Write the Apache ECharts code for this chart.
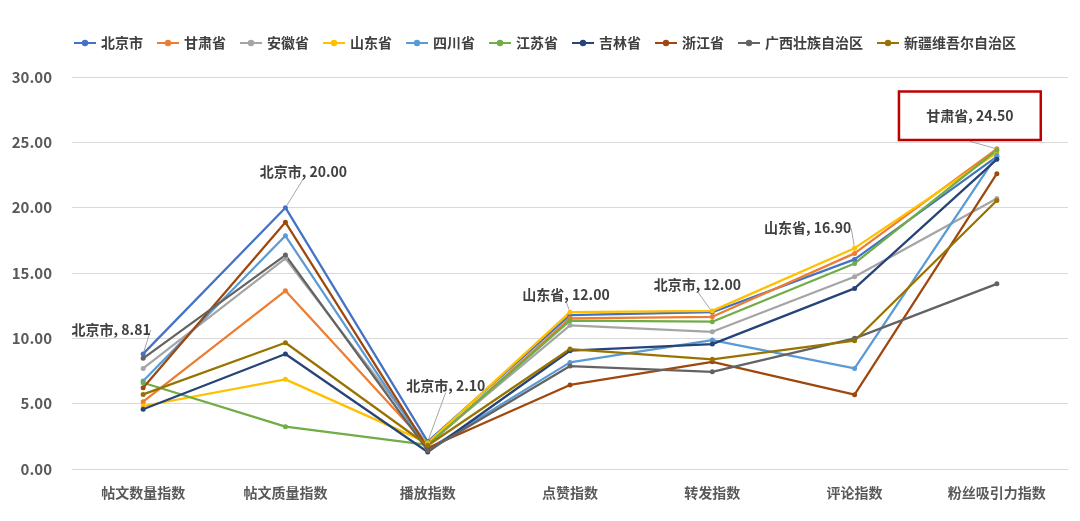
<!DOCTYPE html>
<html>
<head>
<meta charset="utf-8">
<script src="https://cdn.jsdelivr.net/npm/echarts@6/dist/echarts.min.js"></script>
<style>
  html, body { margin: 0; padding: 0; background: #fff; }
  #chart { width: 1080px; height: 521px; }
</style>
</head>
<body>
<div id="chart"></div>
<script>
const categories = ['帖文数量指数', '帖文质量指数', '播放指数', '点赞指数', '转发指数', '评论指数', '粉丝吸引力指数'];
const provinces = ['北京市', '甘肃省', '安徽省', '山东省', '四川省', '江苏省', '吉林省', '浙江省', '广西壮族自治区', '新疆维吾尔自治区'];
const beijing  = [8.81, 20.00, 2.10, 11.78, 12.00, 16.04, 23.90];
const gansu    = [5.15, 13.64, 1.80, 11.53, 11.65, 16.50, 24.50];
const anhui    = [7.70, 16.12, 1.90, 11.00, 10.50, 14.71, 20.70];
const shandong = [4.82, 6.86, 2.00, 12.00, 12.10, 16.90, 24.20];
const sichuan  = [6.73, 17.85, 1.50, 8.16, 9.87, 7.70, 24.00];
const jiangsu  = [6.60, 3.24, 1.84, 11.35, 11.27, 15.73, 24.40];
const jilin    = [4.57, 8.80, 1.30, 9.05, 9.56, 13.82, 23.70];
const zhejiang = [6.22, 18.88, 1.60, 6.43, 8.20, 5.69, 22.60];
const guangxi  = [8.47, 16.37, 1.40, 7.88, 7.44, 10.00, 14.17];
const xinjiang = [5.71, 9.66, 1.80, 9.18, 8.39, 9.82, 20.55];
const yTicks = ['0.00', '5.00', '10.00', '15.00', '20.00', '25.00', '30.00'];

const allData = [beijing, gansu, anhui, shandong, sichuan, jiangsu, jilin, zhejiang, guangxi, xinjiang];
const colors = ['#4472C4', '#ED7D31', '#A5A5A5', '#FFC000', '#5B9BD5', '#70AD47', '#264478', '#9E480E', '#636363', '#997300'];

// 哪些點要顯示標籤 [series, dataIndex, dx, dy]
const labelPos = [
  [0, 0, -32, -24],
  [0, 1, 18, -36],
  [0, 2, 18, -56],
  [3, 3, -4, -18],
  [0, 4, -15, -28],
  [3, 5, -47, -20],
  [1, 6, -27, -33]
];

const chart = echarts.init(document.getElementById('chart'));
const font = '"Noto Sans CJK SC", "Microsoft YaHei", sans-serif';

const series = provinces.map(function (name, si) {
  return {
    name: name,
    type: 'line',
    symbol: 'circle',
    symbolSize: 5,
    lineStyle: { width: 2.25 },
    itemStyle: { color: colors[si] },
    labelLine: { show: true, lineStyle: { color: '#a6a6a6', width: 1 } },
    labelLayout: function (p) {
      const hit = labelPos.find(el => el[0] === si && el[1] === p.dataIndex);
      return hit ? { dx: hit[2], dy: hit[3] } : {};
    },
    data: allData[si].map(function (v, di) {
      const hit = labelPos.find(el => el[0] === si && el[1] === di);
      if (!hit) return v;
      const lab = {
        show: true,
        position: 'inside',
        fontFamily: font,
        fontSize: 14,
        fontWeight: 'bold',
        color: '#404040',
        formatter: function (p) { return p.seriesName + ', ' + p.value.toFixed(2); }
      };
      if (si === 1 && di === 6) {
        lab.borderColor = '#C00000';
        lab.borderWidth = 2.5;
        lab.padding = [26, 26, 6, 26];
        lab.backgroundColor = '#fff';
      }
      return { value: v, label: lab };
    })
  };
});

const option = {
  animation: false,
  color: colors,
  legend: {
    top: 31,
    left: 68,
    itemWidth: 22,
    itemHeight: 8,
    itemGap: 13,
    textStyle: { fontFamily: font, fontSize: 14, color: '#404040', fontWeight: 'bold' },
    data: provinces
  },
  grid: {
    left: 72,
    right: 12,
    top: 77,
    bottom: 52
  },
  xAxis: {
    type: 'category',
    data: categories,
    axisTick: { show: false },
    axisLine: { lineStyle: { color: '#d9d9d9' } },
    axisLabel: { fontFamily: font, fontSize: 14, fontWeight: 'bold', color: '#595959', margin: 17 }
  },
  yAxis: {
    type: 'value',
    min: 0,
    max: 30,
    interval: 5,
    axisLine: { show: false },
    axisTick: { show: false },
    splitLine: { lineStyle: { color: '#d9d9d9' } },
    axisLabel: {
      fontFamily: font, fontSize: 15, fontWeight: 'bold', color: '#595959', margin: 20,
      formatter: function (v) { return yTicks[v / 5]; }
    }
  },
  series: series
};
chart.setOption(option);
</script>
</body>
</html>
